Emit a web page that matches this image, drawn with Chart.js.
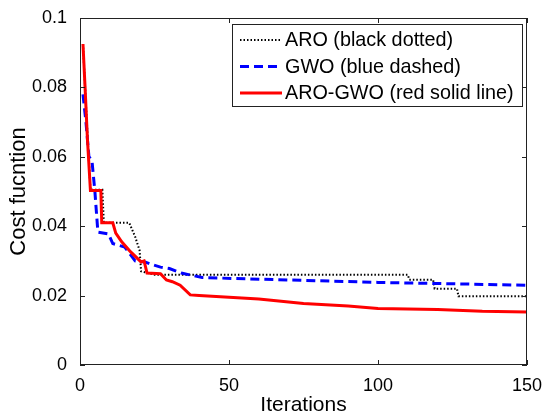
<!DOCTYPE html>
<html>
<head>
<meta charset="utf-8">
<script src="https://cdn.jsdelivr.net/npm/chart.js@4.4.0/dist/chart.umd.min.js"></script>
<style>
  body { margin: 0; background: #fff; }
</style>
</head>
<body>
<canvas id="myChart" width="550" height="420"></canvas>
<script>
// values
var aroIter = [1, 2, 3.5, 7.5, 8, 16.5, 18.5, 20, 20.5, 25, 110, 110.5, 118.5, 119, 126.5, 127, 150];
var aroCost = [0.0925, 0.075, 0.0505, 0.0505, 0.041, 0.041, 0.037, 0.033, 0.027, 0.026, 0.026, 0.0246, 0.0246, 0.022, 0.022, 0.0198, 0.0198];

var gwoIter = [1, 2, 3, 4, 5, 6, 9.5, 11, 15, 18.5, 21.8, 24, 27, 30, 34, 41, 74, 100, 150];
var gwoCost = [0.078, 0.07, 0.06, 0.059, 0.05, 0.0383, 0.0378, 0.035, 0.034, 0.03, 0.0297, 0.029, 0.0282, 0.0278, 0.0265, 0.0252, 0.0244, 0.0238, 0.023];

var hybIter = [1, 1.7, 2.5, 3.5, 7, 7.3, 11, 12, 14, 17, 20.5, 21.5, 22.5, 27, 29, 31, 33.6, 37, 40, 50, 60, 75, 90, 100, 120, 135, 150];
var hybCost = [0.0925, 0.08, 0.065, 0.0503, 0.0503, 0.041, 0.041, 0.038, 0.0355, 0.0326, 0.0297, 0.03, 0.0265, 0.0263, 0.0245, 0.024, 0.023, 0.0202, 0.02, 0.0195, 0.019, 0.0177, 0.017, 0.0163, 0.016, 0.0155, 0.0153];

var seriesNames = ["ARO (black dotted)", "GWO (blue dashed)", "ARO-GWO (red solid line)"];
var xTicks = [0, 50, 100, 150];
var yTicks = [0, 0.02, 0.04, 0.06, 0.08, 0.1];

function pts(xs, ys) {
  return xs.map(function (x, i) { return { x: x, y: ys[i] }; });
}

// frame, inward ticks and the boxed legend, like the matlab figure
var matlabBox = {
  id: "matlabBox",
  afterDatasetsDraw: function (chart) {
    var ctx = chart.ctx;
    var a = chart.chartArea;
    var xs = chart.scales.x, ys = chart.scales.y;
    ctx.save();
    ctx.strokeStyle = "#222";
    ctx.lineWidth = 1;
    ctx.strokeRect(a.left + 0.5, a.top + 0.5, a.right - a.left - 1, a.bottom - a.top - 1);
    ctx.beginPath();
    xTicks.forEach(function (t) {
      var px = Math.round(xs.getPixelForValue(t)) + 0.5;
      ctx.moveTo(px, a.bottom); ctx.lineTo(px, a.bottom - 5);
      ctx.moveTo(px, a.top); ctx.lineTo(px, a.top + 5);
    });
    yTicks.forEach(function (t) {
      var py = Math.round(ys.getPixelForValue(t)) + 0.5;
      ctx.moveTo(a.left, py); ctx.lineTo(a.left + 5, py);
      ctx.moveTo(a.right, py); ctx.lineTo(a.right - 5, py);
    });
    ctx.stroke();

    // legend
    var bx = 232, by = 24, bw = 290, bh = 82;
    ctx.fillStyle = "#fff";
    ctx.fillRect(bx, by, bw, bh);
    ctx.strokeStyle = "#222";
    ctx.strokeRect(bx + 0.5, by + 0.5, bw, bh);
    ctx.font = "19.8px 'Liberation Sans', Arial, sans-serif";
    ctx.textBaseline = "middle";
    ctx.textAlign = "left";
    chart.data.datasets.forEach(function (ds, i) {
      var ry = by + 16 + i * 26.5;
      ctx.save();
      ctx.strokeStyle = ds.borderColor;
      ctx.lineWidth = ds.borderWidth;
      ctx.setLineDash(ds.borderDash || []);
      ctx.beginPath();
      ctx.moveTo(240, ry); ctx.lineTo(282, ry);
      ctx.stroke();
      ctx.restore();
      ctx.fillStyle = "#000";
      ctx.fillText(ds.label, 285, ry + 1);
    });
    ctx.restore();
  }
};

new Chart("myChart", {
  type: "line",
  data: {
    datasets: [
      {
        label: seriesNames[0],
        data: pts(aroIter, aroCost),
        borderColor: "#000",
        borderWidth: 2,
        borderDash: [1.5, 2],
        pointRadius: 0,
        order: 3,
      },
      {
        label: seriesNames[1],
        data: pts(gwoIter, gwoCost),
        borderColor: "#0000ff",
        borderWidth: 3,
        borderDash: [9, 5],
        pointRadius: 0,
        order: 2,
      },
      {
        label: seriesNames[2],
        data: pts(hybIter, hybCost),
        borderColor: "#ff0000",
        borderWidth: 3,
        pointRadius: 0,
        order: 1,
      },
    ],
  },
  options: {
    responsive: false,
    animation: false,
    devicePixelRatio: 1,
    layout: { padding: { left: 0, right: 23, top: 18, bottom: 0 } },
    plugins: {
      legend: { display: false },
      tooltip: { enabled: false },
    },
    scales: {
      x: {
        type: "linear",
        min: 0,
        max: 150,
        afterBuildTicks: function (s) { s.ticks = xTicks.map(function (v) { return { value: v }; }); },
        afterFit: function (s) { s.height = 55; },
        grid: { display: false },
        border: { display: false },
        ticks: {
          color: "#000",
          padding: 2,
          font: { family: "'Liberation Sans', Arial, sans-serif", size: 18 },
        },
        title: {
          display: true,
          text: "Iterations",
          color: "#000",
          padding: { top: 0, bottom: 2 },
          font: { family: "'Liberation Sans', Arial, sans-serif", size: 21 },
        },
      },
      y: {
        type: "linear",
        min: 0,
        max: 0.1,
        afterBuildTicks: function (s) { s.ticks = yTicks.map(function (v) { return { value: v }; }); },
        afterFit: function (s) { s.width = 80; },
        grid: { display: false },
        border: { display: false },
        ticks: {
          color: "#000",
          padding: 5,
          font: { family: "'Liberation Sans', Arial, sans-serif", size: 18 },
          callback: function (v) { return String(Math.round(v * 100) / 100); },
        },
        title: {
          display: true,
          text: "Cost fucntion",
          color: "#000",
          padding: { top: 6, bottom: 0 },
          font: { family: "'Liberation Sans', Arial, sans-serif", size: 22 },
        },
      },
    },
  },
  plugins: [matlabBox],
});
</script>
</body>
</html>
